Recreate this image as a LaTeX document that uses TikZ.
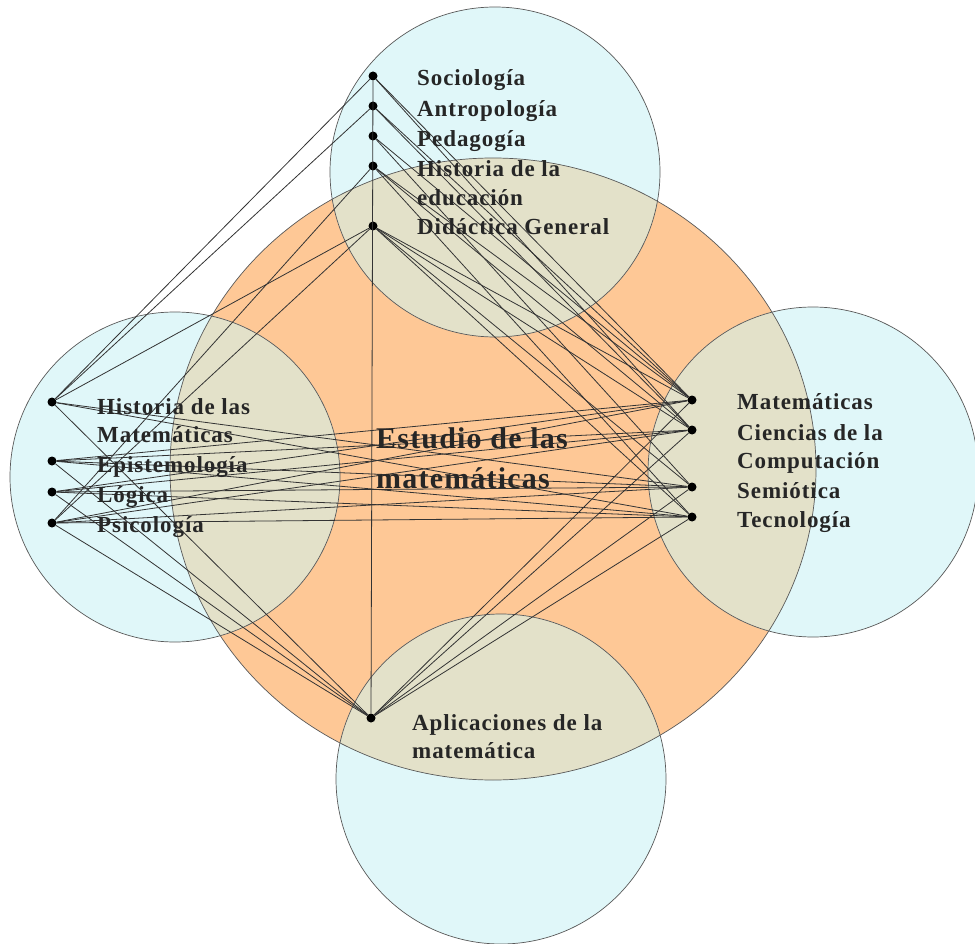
\documentclass[tikz,border=0pt]{standalone}
\usepackage{fontspec}
\setmainfont{Liberation Serif}[LetterSpace=4]
\definecolor{cielo}{RGB}{224,247,249}
\definecolor{naranja}{RGB}{254,200,150}
\definecolor{mezcla}{RGB}{227,225,201}
\begin{document}
\begin{tikzpicture}[x=1pt, y=-1pt,
        dot/.style={circle, fill=black, inner sep=0pt, minimum size=9pt},
        lbl/.style={anchor=base west, inner sep=0pt, font=\fontsize{23}{30}\selectfont\bfseries, text=black!85},
        titulo/.style={anchor=base west, inner sep=0pt, font=\fontsize{30}{40}\selectfont\bfseries, text=black!85},
        enlace/.style={draw=black!80, line width=0.8pt},
        borde/.style={draw=black!65, line width=0.7pt}]
        \useasboundingbox (0,0) rectangle (975,944);

        % fondos
        \fill[naranja] (493,469) ellipse [x radius=323, y radius=311];
        \foreach \cx/\cy in {495/172, 175/477, 813/472, 501/779} {
            \fill[cielo] (\cx,\cy) circle (165);
        }
        \begin{scope}
            \clip (493,469) ellipse [x radius=323, y radius=311];
            \foreach \cx/\cy in {495/172, 175/477, 813/472, 501/779} {
                \fill[mezcla] (\cx,\cy) circle (165);
            }
        \end{scope}
        \draw[borde] (493,469) ellipse [x radius=323, y radius=311];
        \foreach \cx/\cy in {495/172, 175/477, 813/472, 501/779} {
            \draw[borde] (\cx,\cy) circle (165);
        }

        % puntos
        \foreach \n/\y in {soc/76, ant/106, ped/136, hed/166, did/226} {
            \node[dot] (\n) at (373,\y) {};
        }
        \foreach \n/\y in {hm/402, epi/461, log/492, psi/523} {
            \node[dot] (\n) at (52,\y) {};
        }
        \foreach \n/\y in {mat/400, cc/430, sem/487, tec/517} {
            \node[dot] (\n) at (692,\y) {};
        }
        \node[dot] (apl) at (371,718) {};

        % enlaces
        \foreach \a/\b in {soc/apl, soc/hm, ant/hm, did/hm, hed/psi, did/psi,
                soc/mat, soc/cc, ant/mat, ant/cc, ped/mat, ped/sem, hed/mat, hed/cc, hed/tec,
                did/mat, did/cc, did/sem, did/tec,
                hm/sem, hm/tec, epi/mat, epi/cc, epi/sem, epi/tec, log/mat, log/cc, log/sem, log/tec,
                psi/mat, psi/cc, psi/sem, psi/tec,
                hm/apl, epi/apl, log/apl, psi/apl,
                mat/apl, cc/apl, sem/apl, tec/apl} {
            \draw[enlace] (\a) -- (\b);
        }

        % textos
        \node[lbl] (soc-t) at (417,86) {Sociología};
        \node[lbl] (ant-t) at (417,117) {Antropología};
        \node[lbl] (ped-t) at (417,147) {Pedagogía};
        \node[lbl] (hed-t) at (417,177) {Historia de la};
        \node[lbl] (hed-t2) at (417,206) {educación};
        \node[lbl] (did-t) at (417,235) {Didáctica General};

        \node[lbl] (hm-t) at (97,414) {Historia de las};
        \node[lbl] (hm-t2) at (97,442) {Matemáticas};
        \node[lbl] (epi-t) at (97,472) {Epistemología};
        \node[lbl] (log-t) at (97,502) {Lógica};
        \node[lbl] (psi-t) at (97,532) {Psicología};

        \node[lbl] (mat-t) at (737,409) {Matemáticas};
        \node[lbl] (cc-t) at (737,440) {Ciencias de la};
        \node[lbl] (cc-t2) at (737,468) {Computación};
        \node[lbl] (sem-t) at (737,498) {Semiótica};
        \node[lbl] (tec-t) at (737,527) {Tecnología};

        \node[lbl] (apl-t) at (412,730) {Aplicaciones de la};
        \node[lbl] (apl-t2) at (412,758) {matemática};

        \node[titulo] (est-t) at (376,448) {Estudio de las};
        \node[titulo] (est-t2) at (376,488) {matemáticas};
\end{tikzpicture}
\end{document}
